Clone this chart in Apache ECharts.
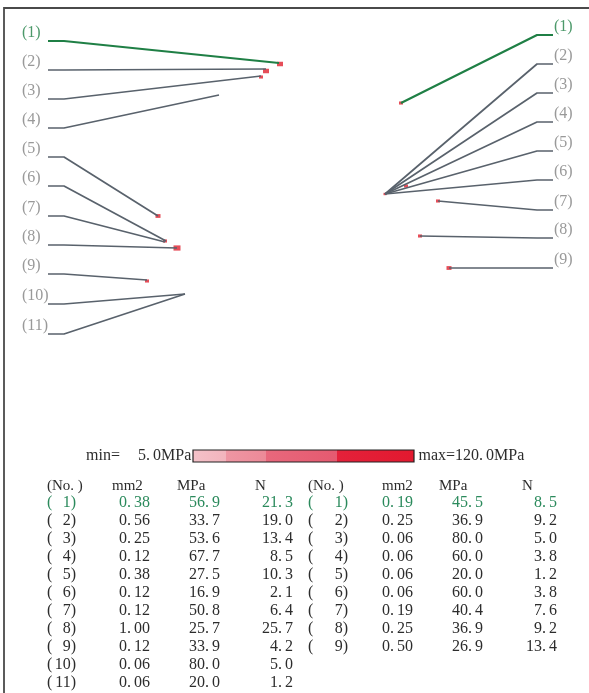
<!DOCTYPE html>
<html><head><meta charset="utf-8">
<script src="https://cdn.jsdelivr.net/npm/echarts@6/dist/echarts.min.js"></script>
<style>html,body{margin:0;padding:0;background:#fff}#c{width:589px;height:693px}</style>
</head><body><div id="c"></div>
<script>
// ---- leader diagram data (diagram coordinates) ----
const leftLabels = ['(1)','(2)','(3)','(4)','(5)','(6)','(7)','(8)','(9)','(10)','(11)'];
const leftLineY  = [41, 70, 99, 128, 157, 186, 216, 245, 274, 304, 334];
const leftEndX   = [279, 266, 261, 219, 158, 166, 165, 177, 147, 185, 185];
const leftEndY   = [63, 69, 76, 95, 216, 241, 242, 248, 280, 294, 294];
const rightLabels = ['(1)','(2)','(3)','(4)','(5)','(6)','(7)','(8)','(9)'];
const rightLineY  = [35, 64, 93, 122, 151, 180, 210, 238, 268];
const rightEndX   = [401, 385, 385, 385, 385, 385, 438, 420, 449];
const rightEndY   = [103, 194, 194, 194, 194, 194, 201, 236, 268];
// red stress marks [x, y, size]
const redMarks = [[280,64,5],[266,71,5],[261,77,3],[158,216,4],[165,241,3],[177,248,6],[147,281,3],
                  [401,103,3],[406,186,3],[438,201,3],[420,236,3],[449,268,4],[385,194,2]];

// ---- table data ----
const leftNo   = [1,2,3,4,5,6,7,8,9,10,11];
const leftMm2  = [0.38,0.56,0.25,0.12,0.38,0.12,0.12,1.00,0.12,0.06,0.06];
const leftMPa  = [56.9,33.7,53.6,67.7,27.5,16.9,50.8,25.7,33.9,80.0,20.0];
const leftN    = [21.3,19.0,13.4,8.5,10.3,2.1,6.4,25.7,4.2,5.0,1.2];
const rightNo  = [1,2,3,4,5,6,7,8,9];
const rightMm2 = [0.19,0.25,0.06,0.06,0.06,0.06,0.19,0.25,0.50];
const rightMPa = [45.5,36.9,80.0,60.0,20.0,60.0,40.4,36.9,26.9];
const rightN   = [8.5,9.2,5.0,3.8,1.2,3.8,7.6,9.2,13.4];
const headers  = ['(No. )','mm2','MPa','N'];
const minMPa = 5.0, maxMPa = 120.0;

const GREEN = '#1f7f45', GRAY = '#59626c', LABEL = '#808080', TXT = '#2c2c2c', TGREEN = '#2b8a5c';

const series = [];
function leader(pts, color, w) {
  series.push({type:'line', data:pts, symbol:'none', silent:true, animation:false,
    lineStyle:{color:color, width:w}});
}
leftLineY.forEach((y,i)=>{
  leader([[48,y],[64,y],[leftEndX[i],leftEndY[i]]], i===0?GREEN:GRAY, i===0?2.2:1.7);
});
rightLineY.forEach((y,i)=>{
  leader([[553,y],[537,y],[rightEndX[i],rightEndY[i]]], i===0?GREEN:GRAY, i===0?2.2:1.7);
});
series.push({type:'scatter', animation:false, silent:true,
  data: redMarks.map(m=>[m[0],m[1],m[2]]),
  symbol:'rect', symbolSize:(v)=>[v[2]+1, v[2]*0.7+1], itemStyle:{color:'#e0202e'}});
function labelSeries(texts, xs, ys) {
  series.push({type:'scatter', animation:false, silent:true, symbolSize:0,
    data: texts.map((t,i)=>({value:[xs,ys[i]-8], name:t, label:{color:i===0?GREEN:LABEL}})),
    label:{show:true, position:'inside', align:'left', verticalAlign:'middle',
      formatter:(p)=>p.name, fontFamily:'Liberation Serif', fontSize:16}});
}
labelSeries(leftLabels, 22, leftLineY);
labelSeries(rightLabels, 554, rightLineY);

// ---- graphics: frame, color bar, table ----
const graphic = [];
graphic.push({type:'polyline', shape:{points:[[4,693],[4,8],[589,8]]}, style:{stroke:'#4a4a4a', lineWidth:1.8, fill:null}});
graphic.push({type:'rect', shape:{x:193,y:450,width:221,height:12},
  style:{stroke:'#222', lineWidth:1.2, fill:{type:'linear',x:0,y:0,x2:1,y2:0,colorStops:[
    {offset:0,color:'#f4c2c9'},{offset:0.15,color:'#f2b4bd'},{offset:0.151,color:'#ee96a3'},{offset:0.33,color:'#ec8a98'},
    {offset:0.331,color:'#e8687c'},{offset:0.65,color:'#e55a70'},{offset:0.651,color:'#e4213a'},{offset:1,color:'#e2192f'}]}}});
const SERIF = 'Liberation Serif';
function txt(x,y,s,align,color,font,size){
  graphic.push({type:'text', x:x, y:y, style:{text:s, fill:color||TXT, font:(size||16)+'px "'+(font||SERIF)+'"',
    textAlign:align||'left', textVerticalAlign:'middle'}});
}
const minParts = minMPa.toFixed(1).split('.'), maxParts = maxMPa.toFixed(1).split('.');
txt(86,456,'min=','left');
txt(150,456,minParts[0]+'.','right');
txt(153,456,minParts[1]+'MPa','left');
txt(483,456,'max='+maxParts[0]+'.','right');
txt(486,456,maxParts[1]+'MPa','left');

// number laid out as "0. 38": integer part + dot, a small gap, then decimals
function num(R, y, v, d, c) {
  const s = v.toFixed(d).split('.');
  txt(R - 8*d, y, s[1], 'left', c);
  txt(R - 8*d - 3, y, s[0] + '.', 'right', c);
}
function table(x0, noR, mmR, mpR, nR, hx, no, mm, mp, n) {
  const hy = 486;
  headers.forEach((h,k)=>txt(hx[k],hy,h,'left',TXT,SERIF,15));
  no.forEach((k,i)=>{
    const y = 503 + i*18;
    const c = i===0?TGREEN:TXT;
    txt(x0,y,'(', 'left', c);
    txt(noR,y,k+')','right',c);
    num(mmR,y,mm[i],2,c);
    num(mpR,y,mp[i],1,c);
    num(nR,y,n[i],1,c);
  });
}
table(47, 76, 150, 220, 293, [47,112,177,255], leftNo, leftMm2, leftMPa, leftN);
table(308, 348, 413, 483, 557, [308,382,439,522], rightNo, rightMm2, rightMPa, rightN);

const chart = echarts.init(document.getElementById('c'));
chart.setOption({
  animation:false,
  backgroundColor:'#fff',
  grid:{left:0,right:0,top:0,bottom:0},
  xAxis:{type:'value',min:0,max:589,show:false},
  yAxis:{type:'value',min:0,max:693,inverse:true,show:false},
  series: series,
  graphic: graphic
});
</script></body></html>
